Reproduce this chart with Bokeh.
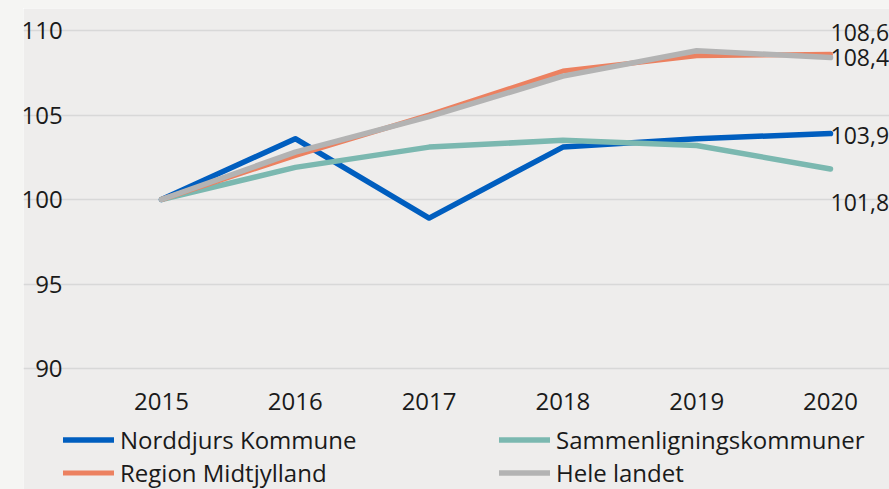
from bokeh.plotting import figure
from bokeh.models import (Range1d, FixedTicker, Legend, LegendItem, ColumnDataSource, Div)
from bokeh.layouts import row, column
from bokeh.core.properties import value
from bokeh.embed import file_html
from bokeh.resources import INLINE

years = [2015, 2016, 2017, 2018, 2019, 2020]
norddjurs = [100, 103.6, 98.9, 103.1, 103.6, 103.9]
sammen = [100, 101.9, 103.1, 103.5, 103.2, 101.8]
region = [100, 102.6, 105.0, 107.6, 108.5, 108.6]
hele = [100, 102.8, 104.9, 107.3, 108.8, 108.4]
y_ticks = [90, 95, 100, 105, 110]
names = ["Norddjurs Kommune", "Sammenligningskommuner", "Region Midtjylland", "Hele landet"]
values = [norddjurs, sammen, region, hele]

colors = ["#005EBF", "#7BB8B0", "#EC8160", "#B3B3B3"]
widths = [5.5, 5.5, 5, 5.5]
# screen offsets of the end labels (style, not data)
label_dy = [2, 33, -22, 0]

FONT = "Open Sans"
FS = "24px"
TXT = "#1A1A1A"
BG = "#EEEDEC"
OUT = "#F5F5F3"

W, H = 866, 481
PX_PER_UNIT = 16.9
PX_PER_YEAR = 133.8
X0 = years[0] - 138 / PX_PER_YEAR          # left edge of the figure
Y0 = y_ticks[0] - 121 / PX_PER_UNIT        # bottom edge of the figure
X_AXIS_AT = years[0] - 0.5

p = figure(width=W, height=H, output_backend="svg", toolbar_location=None,
           x_range=Range1d(X0, X0 + W / PX_PER_YEAR),
           y_range=Range1d(Y0, Y0 + H / PX_PER_UNIT),
           min_border_left=0, min_border_right=0, min_border_top=0, min_border_bottom=0)
p.background_fill_color = BG
p.border_fill_color = BG
p.outline_line_color = None

p.xgrid.grid_line_color = None
p.ygrid.grid_line_color = "#D8D8D8"
p.ygrid.grid_line_width = 1.5
p.ygrid.ticker = FixedTicker(ticks=y_ticks)
p.ygrid.bounds = (X_AXIS_AT, X0 + W / PX_PER_YEAR + 1)

for ax in (p.xaxis[0], p.yaxis[0]):
    ax.axis_line_color = None
    ax.major_tick_line_color = None
    ax.minor_tick_line_color = None
    ax.major_label_text_font = FONT
    ax.major_label_text_font_size = FS
    ax.major_label_text_color = TXT
p.xaxis.ticker = FixedTicker(ticks=years)
p.yaxis.ticker = FixedTicker(ticks=y_ticks)
p.xaxis.fixed_location = y_ticks[0]
p.yaxis.fixed_location = X_AXIS_AT
p.yaxis.major_label_standoff = 26
p.xaxis.major_label_standoff = 18

rend = {}
for n, vals, color, lw in zip(names, values, colors, widths):
    rend[n] = p.line(years, vals, line_color=color, line_width=lw,
                     line_join="round", line_cap="round")

src = ColumnDataSource(dict(
    x=[years[-1]] * len(values),
    y=[v[-1] for v in values],
    t=[f"{v[-1]:.1f}".replace(".", ",") for v in values],
    dy=label_dy))
p.text(x="x", y="y", text="t", y_offset="dy", x_offset=0, source=src,
       text_font=value(FONT), text_font_size="23px", text_color=TXT,
       text_baseline="middle", text_align="left")

def make_legend(item_names, loc):
    lg = Legend(items=[LegendItem(label=n, renderers=[rend[n]]) for n in item_names],
                location=loc, orientation="vertical")
    lg.label_text_font = FONT
    lg.label_text_font_size = FS
    lg.label_text_color = TXT
    lg.glyph_width = 51
    lg.glyph_height = 33
    lg.label_height = 33
    lg.label_standoff = 6
    lg.spacing = 0
    lg.padding = 0
    lg.margin = 0
    lg.background_fill_alpha = 0
    lg.border_line_color = None
    return lg

p.add_layout(make_legend([names[0], names[2]], (40, 0)), "center")
p.add_layout(make_legend([names[1], names[3]], (476, 0)), "center")

top = Div(width=889, height=8, styles={"background-color": OUT}, margin=0)
strip = Div(width=23, height=H, styles={"background-color": OUT}, margin=0)
layout = column(top, row(strip, p, spacing=0, margin=0), spacing=0, margin=0)

open("out.html", "w").write(file_html(layout, INLINE))
